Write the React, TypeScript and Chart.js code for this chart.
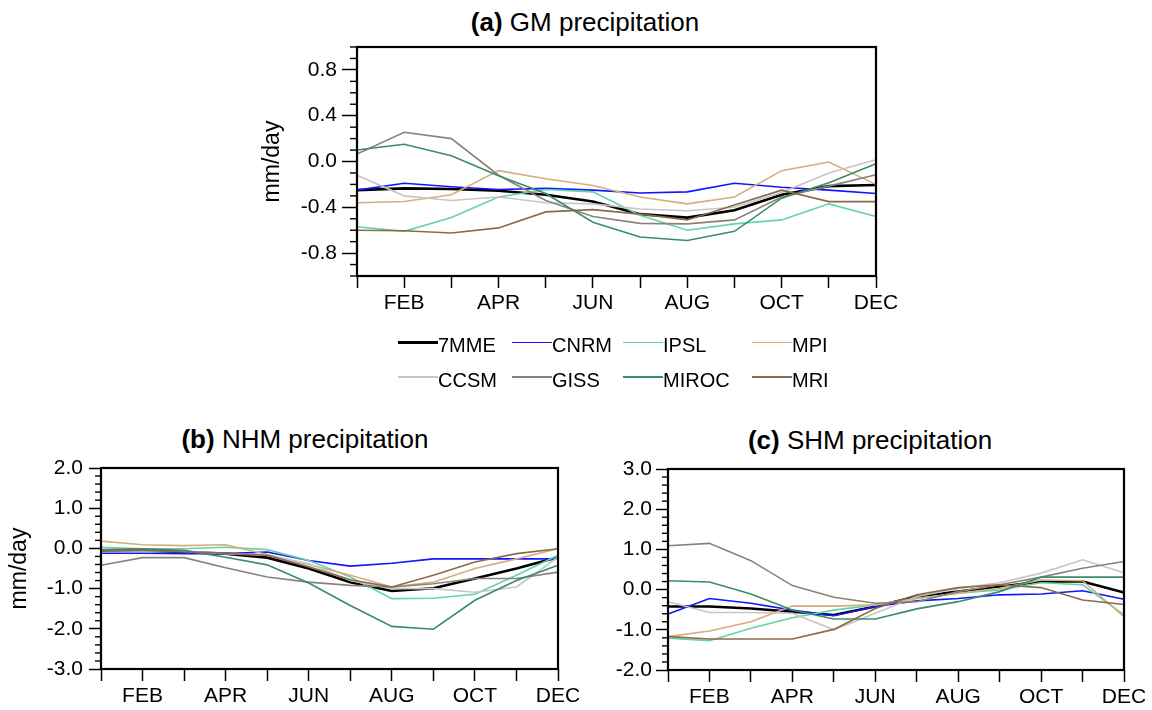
import React, { useEffect, useRef } from "react";
import { Chart, registerables } from "chart.js";
Chart.register(...registerables);

const FONT = '"Liberation Sans", Arial, Helvetica, sans-serif';

// ---------- categories / labels ----------
const months = ["JAN", "FEB", "MAR", "APR", "MAY", "JUN", "JUL", "AUG", "SEP", "OCT", "NOV", "DEC"];
const monthTickLabels = ["", "FEB", "", "APR", "", "JUN", "", "AUG", "", "OCT", "", "DEC"];
const models = ["7MME", "CNRM", "IPSL", "MPI", "CCSM", "GISS", "MIROC", "MRI"];
const modelColors = ["#000000", "#1414ff", "#62d4a8", "#d6ad7c", "#c6c6c6", "#8c8177", "#3a8c6c", "#8a6a4c"];
const modelWidths = [2.6, 1.6, 1.6, 1.6, 1.6, 1.6, 1.6, 1.6];

// ---------- (a) GM precipitation ----------
const gm7MME = [-0.25, -0.235, -0.24, -0.255, -0.29, -0.35, -0.46, -0.49, -0.425, -0.29, -0.215, -0.205];
const gmCNRM = [-0.25, -0.19, -0.22, -0.245, -0.235, -0.25, -0.275, -0.265, -0.19, -0.225, -0.25, -0.28];
const gmIPSL = [-0.57, -0.61, -0.49, -0.31, -0.245, -0.265, -0.47, -0.6, -0.545, -0.51, -0.37, -0.48];
const gmMPI = [-0.36, -0.35, -0.29, -0.08, -0.15, -0.21, -0.31, -0.37, -0.31, -0.08, -0.005, -0.2];
const gmCCSM = [-0.12, -0.3, -0.34, -0.31, -0.36, -0.37, -0.415, -0.43, -0.4, -0.27, -0.1, 0.015];
const gmGISS = [0.065, 0.255, 0.2, -0.12, -0.34, -0.48, -0.54, -0.545, -0.51, -0.31, -0.215, -0.115];
const gmMIROC = [0.1, 0.15, 0.05, -0.125, -0.28, -0.53, -0.66, -0.69, -0.61, -0.32, -0.185, -0.02];
const gmMRI = [-0.6, -0.605, -0.625, -0.58, -0.44, -0.42, -0.46, -0.51, -0.38, -0.25, -0.35, -0.35];

// ---------- (b) NHM precipitation ----------
const nh7MME = [-0.05, -0.05, -0.09, -0.13, -0.23, -0.5, -0.84, -1.06, -0.99, -0.75, -0.5, -0.22];
const nhCNRM = [-0.12, -0.12, -0.13, -0.13, -0.09, -0.3, -0.44, -0.37, -0.26, -0.26, -0.26, -0.26];
const nhIPSL = [0.03, -0.01, -0.01, 0.03, -0.03, -0.3, -0.71, -1.25, -1.24, -1.14, -0.67, -0.17];
const nhMPI = [0.18, 0.09, 0.07, 0.09, -0.15, -0.4, -0.67, -0.96, -0.84, -0.5, -0.26, -0.01];
const nhCCSM = [-0.05, -0.07, -0.07, -0.13, -0.17, -0.38, -0.8, -1.0, -1.0, -1.09, -0.96, -0.22];
const nhGISS = [-0.42, -0.23, -0.23, -0.48, -0.71, -0.84, -0.92, -0.96, -0.88, -0.75, -0.75, -0.59];
const nhMIROC = [-0.03, -0.01, -0.05, -0.22, -0.41, -0.86, -1.42, -1.94, -2.01, -1.29, -0.8, -0.42];
const nhMRI = [-0.05, -0.05, -0.09, -0.12, -0.17, -0.46, -0.78, -0.96, -0.67, -0.34, -0.13, -0.01];

// ---------- (c) SHM precipitation ----------
const sh7MME = [-0.42, -0.42, -0.47, -0.55, -0.63, -0.42, -0.17, -0.05, 0.07, 0.2, 0.2, -0.07];
const shCNRM = [-0.61, -0.22, -0.34, -0.51, -0.65, -0.42, -0.28, -0.22, -0.13, -0.11, -0.03, -0.24];
const shIPSL = [-1.21, -1.27, -0.96, -0.7, -0.51, -0.38, -0.22, -0.09, -0.01, 0.17, 0.12, -0.63];
const shMPI = [-1.17, -1.03, -0.8, -0.41, -0.41, -0.38, -0.22, -0.09, 0.03, 0.24, 0.22, -0.67];
const shCCSM = [-0.3, -0.57, -0.57, -0.59, -1.0, -0.59, -0.17, 0.03, 0.17, 0.41, 0.74, 0.42];
const shGISS = [1.09, 1.15, 0.72, 0.1, -0.19, -0.34, -0.3, -0.05, 0.12, 0.31, 0.53, 0.7];
const shMIROC = [0.22, 0.19, -0.11, -0.51, -0.73, -0.73, -0.48, -0.3, -0.05, 0.31, 0.31, 0.31];
const shMRI = [-1.17, -1.23, -1.23, -1.23, -0.99, -0.47, -0.13, 0.05, 0.12, 0.05, -0.26, -0.37];

const gmSeries = [gm7MME, gmCNRM, gmIPSL, gmMPI, gmCCSM, gmGISS, gmMIROC, gmMRI];
const nhSeries = [nh7MME, nhCNRM, nhIPSL, nhMPI, nhCCSM, nhGISS, nhMIROC, nhMRI];
const shSeries = [sh7MME, shCNRM, shIPSL, shMPI, shCCSM, shGISS, shMIROC, shMRI];

function isMajor(v: number, step: number) {
  const r = v / step;
  return Math.abs(r - Math.round(r)) < 1e-6;
}
function fmt(v: number) {
  return (Math.abs(v) < 1e-9 ? 0 : v).toFixed(1);
}

type Box = { left: number; top: number; width: number; height: number };
type Area = { left: number; top: number; right: number; bottom: number };
type PanelProps = {
  series: number[][];
  min: number;
  max: number;
  minorStep: number;
  majorStep: number;
  canvasBox: Box;
  area: Area;
  majorLen: number;
  minorLen: number;
  yLabelPad: number;
  yTitlePad: number | null;
  xAxisH: number;
};

function Panel(p: PanelProps) {
  const ref = useRef<HTMLCanvasElement | null>(null);
  useEffect(() => {
    const canvas = ref.current;
    if (!canvas) return;
    const { canvasBox: cb, area } = p;
    const framePlugin = {
      id: "frameMinor",
      afterDatasetsDraw(chart: any) {
        const { ctx, chartArea: a } = chart;
        const ys = chart.scales.y;
        ctx.save();
        ctx.strokeStyle = "#000";
        ctx.lineWidth = 1.4;
        ys.ticks.forEach((t: any) => {
          if (!isMajor(t.value, p.majorStep)) {
            const py = ys.getPixelForValue(t.value);
            ctx.beginPath();
            ctx.moveTo(a.left - p.minorLen, py);
            ctx.lineTo(a.left, py);
            ctx.stroke();
          }
        });
        ctx.lineWidth = 2.2;
        ctx.strokeRect(a.left, a.top, a.right - a.left, a.bottom - a.top);
        ctx.restore();
      },
    };
    const chart = new Chart(canvas, {
      type: "line",
      data: {
        labels: months,
        datasets: models.map((m, i) => ({
          label: m,
          data: p.series[i],
          borderColor: modelColors[i],
          backgroundColor: modelColors[i],
          borderWidth: modelWidths[i],
          pointRadius: 0,
          tension: 0,
          fill: false,
          order: models.length - i,
        })),
      },
      options: {
        responsive: false,
        animation: false,
        events: [],
        layout: {
          padding: {
            left: 0,
            top: area.top - cb.top,
            right: cb.left + cb.width - area.right,
            bottom: cb.top + cb.height - area.bottom - p.xAxisH,
          },
        },
        plugins: {
          legend: { display: false },
          tooltip: { enabled: false },
          title: { display: false },
        },
        scales: {
          x: {
            type: "category",
            offset: false,
            grid: {
              drawOnChartArea: false,
              drawTicks: true,
              tickLength: 12,
              tickColor: "#000",
              tickWidth: 1.5,
            },
            border: { display: false },
            ticks: {
              autoSkip: false,
              maxRotation: 0,
              minRotation: 0,
              padding: 3,
              color: "#000",
              font: { family: FONT, size: 21 },
              callback: (_v: any, i: number) => monthTickLabels[i],
            },
            afterFit: (s: any) => {
              s.height = p.xAxisH;
            },
          },
          y: {
            type: "linear",
            min: p.min,
            max: p.max,
            grid: {
              drawOnChartArea: false,
              drawTicks: true,
              tickLength: p.majorLen,
              tickWidth: 1.5,
              tickColor: (c: any) =>
                c.tick && isMajor(c.tick.value, p.majorStep) ? "#000" : "rgba(0,0,0,0)",
            },
            border: { display: false },
            ticks: {
              stepSize: p.minorStep,
              autoSkip: false,
              padding: p.yLabelPad,
              color: "#000",
              font: { family: FONT, size: 21 },
              callback: (v: any) => (isMajor(Number(v), p.majorStep) ? fmt(Number(v)) : ""),
            },
            title:
              p.yTitlePad !== null
                ? {
                    display: true,
                    text: "mm/day",
                    color: "#000",
                    font: { family: FONT, size: 23 },
                    padding: { top: p.yTitlePad, bottom: 0 },
                  }
                : { display: false },
            afterFit: (s: any) => {
              s.width = area.left - cb.left;
            },
          },
        },
      } as any,
      plugins: [framePlugin],
    });
    return () => chart.destroy();
  }, []);
  const cb = p.canvasBox;
  return (
    <canvas
      ref={ref}
      width={cb.width}
      height={cb.height}
      style={{ position: "absolute", left: cb.left, top: cb.top, width: cb.width, height: cb.height }}
    />
  );
}

function Title(props: { tag: string; text: string; center: number; baseline: number }) {
  const size = 26;
  return (
    <div
      style={{
        position: "absolute",
        left: props.center - 200,
        top: props.baseline - size * 0.8465,
        width: 400,
        textAlign: "center",
        fontFamily: FONT,
        fontSize: size,
        lineHeight: size + "px",
        whiteSpace: "nowrap",
        color: "#000",
      }}
    >
      <b>{props.tag}</b> {props.text}
    </div>
  );
}

const legendColX = [398, 512, 623, 752];
const legendRowBaseline = [352, 386.5];

function Legend() {
  const size = 20;
  return (
    <>
      {models.map((m, i) => {
        const col = i % 4;
        const row = Math.floor(i / 4);
        const x = legendColX[col];
        const base = legendRowBaseline[row];
        const lw = modelWidths[i];
        return (
          <React.Fragment key={m}>
            <div
              style={{
                position: "absolute",
                left: x,
                top: base - 9.5 - lw / 2,
                width: 40,
                height: lw,
                background: modelColors[i],
              }}
            />
            <div
              style={{
                position: "absolute",
                left: x + 40,
                top: base - size * 0.8465,
                fontFamily: FONT,
                fontSize: size,
                lineHeight: size + "px",
                whiteSpace: "nowrap",
                color: "#000",
              }}
            >
              {m}
            </div>
          </React.Fragment>
        );
      })}
    </>
  );
}

export default function App() {
  return (
    <div
      style={{
        position: "absolute",
        left: 0,
        top: 0,
        width: 1152,
        height: 710,
        background: "#fff",
        overflow: "hidden",
      }}
    >
      <Title tag="(a)" text="GM precipitation" center={585} baseline={31} />
      <Panel
        series={gmSeries}
        min={-1}
        max={1}
        minorStep={0.1}
        majorStep={0.4}
        canvasBox={{ left: 230, top: 0, width: 700, height: 340 }}
        area={{ left: 357, top: 47, right: 876, bottom: 276 }}
        majorLen={15}
        minorLen={7}
        yLabelPad={5}
        yTitlePad={29.2}
        xAxisH={45}
      />
      <Legend />
      <Title tag="(b)" text="NHM precipitation" center={305} baseline={448} />
      <Panel
        series={nhSeries}
        min={-3}
        max={2}
        minorStep={0.2}
        majorStep={1}
        canvasBox={{ left: 0, top: 430, width: 600, height: 280 }}
        area={{ left: 101, top: 468, right: 558, bottom: 669 }}
        majorLen={12}
        minorLen={6}
        yLabelPad={6}
        yTitlePad={6.2}
        xAxisH={38}
      />
      <Title tag="(c)" text="SHM precipitation" center={870} baseline={449} />
      <Panel
        series={shSeries}
        min={-2}
        max={3}
        minorStep={0.2}
        majorStep={1}
        canvasBox={{ left: 600, top: 430, width: 552, height: 280 }}
        area={{ left: 668, top: 469, right: 1124, bottom: 670 }}
        majorLen={12}
        minorLen={6}
        yLabelPad={4}
        yTitlePad={null}
        xAxisH={38}
      />
    </div>
  );
}
